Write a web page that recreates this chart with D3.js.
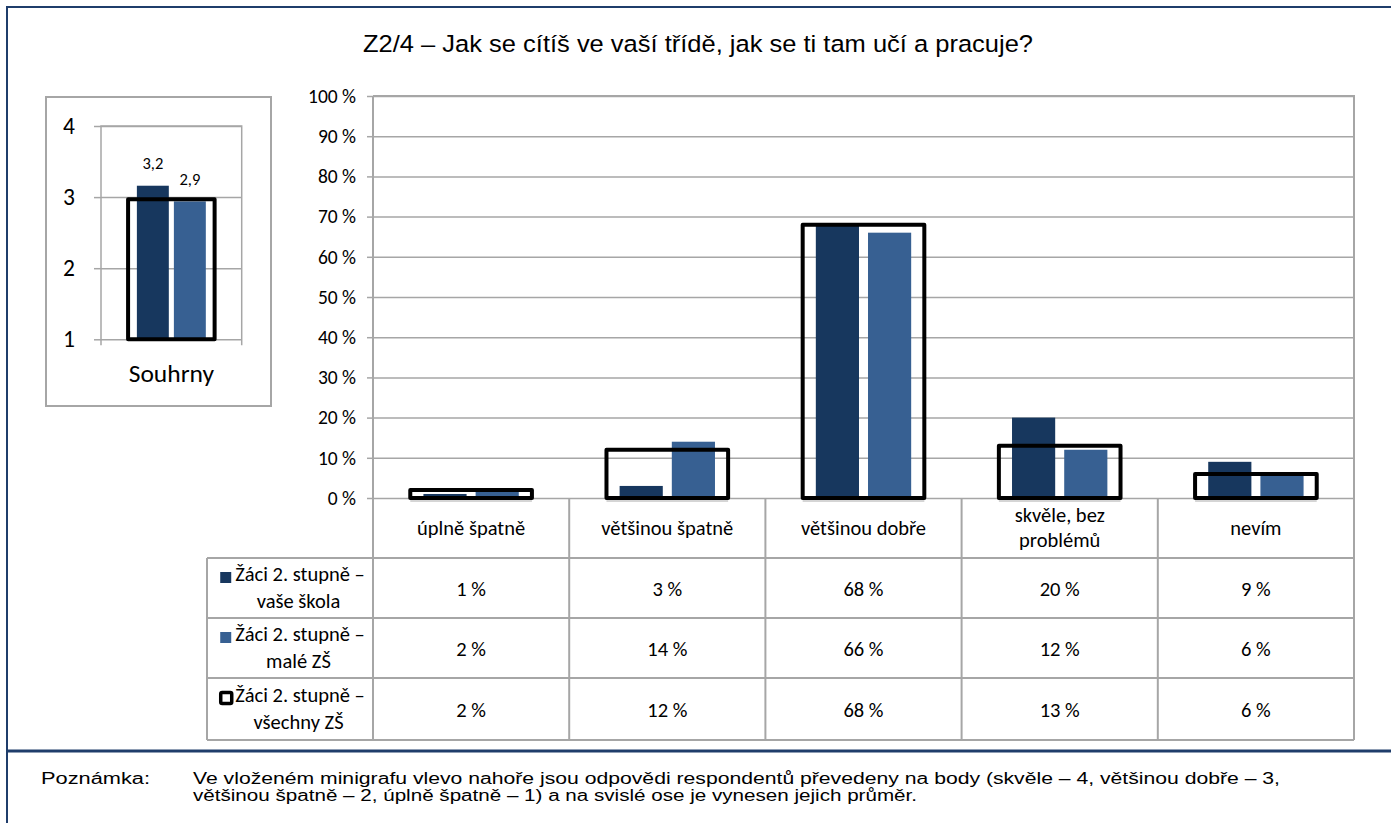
<!DOCTYPE html>
<html><head><meta charset="utf-8">
<script src="https://cdn.jsdelivr.net/npm/d3@7"></script>
<style>
html,body{margin:0;padding:0;background:#fff;}
svg{display:block;}
</style></head>
<body>
<svg id="c" width="1391" height="823"></svg>
<script>
const title = "Z2/4 – Jak se cítíš ve vaší třídě, jak se ti tam učí a pracuje?";
const categories = ["úplně špatně", "většinou špatně", "většinou dobře", "skvěle, bez\nproblémů", "nevím"];
const seriesNames = ["Žáci 2. stupně –\nvaše škola", "Žáci 2. stupně –\nmalé ZŠ", "Žáci 2. stupně –\nvšechny ZŠ"];
const schoolValues = [1, 3, 68, 20, 9];
const smallValues = [2, 14, 66, 12, 6];
const allValues = [2, 12, 68, 13, 6];
const yTicks = [0, 10, 20, 30, 40, 50, 60, 70, 80, 90, 100];
const miniCategory = ["Souhrny"];
const miniSchool = [3.16];
const miniSmall = [2.94];
const miniAll = [2.97];
const miniTicks = [1, 2, 3, 4];
const miniLabels = ["3,2", "2,9"];
const noteLabel = "Poznámka:";
const noteLines = ["Ve vloženém minigrafu vlevo nahoře jsou odpovědi respondentů převedeny na body (skvěle – 4, většinou dobře – 3,",
                   "většinou špatně – 2, úplně špatně – 1) a na svislé ose je vynesen jejich průměr."];

const C_DARK = "#17375e", C_LIGHT = "#376092", C_GRID = "#a6a6a6", C_FRAME = "#1f3d6b";
const FONT_C = "Carlito, Lato, 'Open Sans', sans-serif";
const FONT_A = "'Liberation Sans', Arial, sans-serif";
const TFS = 20.5;

const svg = d3.select("#c");

// Frame
svg.append("rect").attr("x", 7).attr("y", 7).attr("width", 1400).attr("height", 830)
  .attr("fill", "none").attr("stroke", C_FRAME).attr("stroke-width", 2);
svg.append("line").attr("x1", 7).attr("x2", 1391).attr("y1", 751).attr("y2", 751)
  .attr("stroke", C_FRAME).attr("stroke-width", 3);

// Title
svg.append("text").attr("x", 363).attr("y", 52)
  .attr("font-family", FONT_A).attr("font-size", 24.5).attr("fill", "#000")
  .attr("textLength", 670).attr("lengthAdjust", "spacingAndGlyphs").text(title);

// ---------- Main chart ----------
const L = 373, R = 1354, T = 96, B = 498;
const x = d3.scaleBand().domain(categories).range([L, R]).padding(0);
const y = d3.scaleLinear().domain([0, 100]).range([B, T]);
const bw = x.bandwidth();

const g = svg.append("g");
g.append("g").attr("transform", `translate(${L},0)`)
  .call(d3.axisLeft(y).tickValues(yTicks).tickSize(-(R - L)).tickFormat(""))
  .call(s => s.select(".domain").remove())
  .call(s => s.selectAll("line").attr("stroke", C_GRID).attr("stroke-width", 1.5));
g.append("g").attr("transform", `translate(${L},0)`)
  .call(d3.axisLeft(y).tickValues(yTicks).tickSize(6).tickPadding(11).tickFormat(d => d + " %"))
  .call(s => s.select(".domain").remove())
  .call(s => s.selectAll("line").attr("stroke", C_GRID).attr("stroke-width", 1.5))
  .call(s => s.selectAll("text").attr("font-family", FONT_C).attr("font-size", 19.5).attr("fill", "#000"));

g.append("path").attr("d", `M${L},${T}H${R}V${B}`).attr("fill", "none").attr("stroke", C_GRID).attr("stroke-width", 2);

// bars
const barW = bw * 0.22, barGap = bw * 0.046;
[schoolValues, smallValues].forEach((vals, si) => {
  g.append("g").selectAll("rect").data(vals).join("rect")
    .attr("x", (d, i) => x(categories[i]) + bw / 2 + (si === 0 ? -(barW + barGap / 2) : barGap / 2))
    .attr("width", barW)
    .attr("y", d => y(d)).attr("height", d => B - y(d))
    .attr("fill", si === 0 ? C_DARK : C_LIGHT);
});
// box series
const boxW = bw * 0.62;
g.append("g").selectAll("line").data(allValues).join("line")
  .attr("x1", (d, i) => x(categories[i]) + bw / 2 - boxW / 2)
  .attr("x2", (d, i) => x(categories[i]) + bw / 2 + boxW / 2)
  .attr("y1", B + 3).attr("y2", B + 3).attr("stroke", "#777").attr("stroke-width", 1.2).attr("opacity", 0.6);
g.append("g").selectAll("path").data(allValues).join("path")
  .attr("d", (d, i) => {
    const cx = x(categories[i]) + bw / 2;
    return `M${cx - boxW / 2},${B}V${y(d)}H${cx + boxW / 2}V${B}Z`;
  })
  .attr("fill", "none").attr("stroke", "#000").attr("stroke-width", 4).attr("stroke-linejoin", "round");

g.append("line").attr("x1", L).attr("x2", L).attr("y1", T).attr("y2", 740).attr("stroke", C_GRID).attr("stroke-width", 2);

// ---------- Data table ----------
const rows = [498, 558, 618, 678, 740];
const TL = 207;
const tg = svg.append("g");
[558, 618, 678, 740].forEach(yy => tg.append("line").attr("x1", TL).attr("x2", R).attr("y1", yy).attr("y2", yy).attr("stroke", C_GRID).attr("stroke-width", 2));
categories.forEach((c, i) => {
  tg.append("line").attr("x1", x(c) + bw).attr("x2", x(c) + bw).attr("y1", B).attr("y2", 740).attr("stroke", C_GRID).attr("stroke-width", 2);
});
tg.append("line").attr("x1", TL).attr("x2", TL).attr("y1", 558).attr("y2", 740).attr("stroke", C_GRID).attr("stroke-width", 2);

categories.forEach((c, i) => {
  const lines = c.split("\n");
  const cy = 528;
  lines.forEach((ln, li) => {
    tg.append("text").attr("x", x(c) + bw / 2).attr("y", cy + (li - (lines.length - 1) / 2) * 25 + 6.5)
      .attr("text-anchor", "middle").attr("font-family", FONT_C).attr("font-size", TFS).attr("fill", "#000").text(ln);
  });
});
const tableData = [schoolValues, smallValues, allValues];
tableData.forEach((vals, ri) => {
  const cy = (rows[ri + 1] + rows[ri + 2]) / 2;
  vals.forEach((v, i) => {
    tg.append("text").attr("x", x(categories[i]) + bw / 2).attr("y", cy + 8)
      .attr("text-anchor", "middle").attr("font-family", FONT_C).attr("font-size", TFS).attr("fill", "#000").text(v + " %");
  });
  const lines = seriesNames[ri].split("\n");
  const l1 = tg.append("text").attr("x", 300).attr("y", cy - 7).attr("text-anchor", "middle")
    .attr("font-family", FONT_C).attr("font-size", TFS).attr("fill", "#000").text(lines[0]);
  tg.append("text").attr("x", 298.5).attr("y", cy + 19.5).attr("text-anchor", "middle")
    .attr("font-family", FONT_C).attr("font-size", TFS).attr("fill", "#000").text(lines[1]);
  const bb = l1.node().getBBox();
  const mx0 = Math.max(bb.x - 15, 210), my0 = cy - 16;
  if (ri < 2) {
    tg.append("rect").attr("x", mx0).attr("y", my0).attr("width", 11).attr("height", 11).attr("fill", ri === 0 ? C_DARK : C_LIGHT);
  } else {
    tg.append("rect").attr("x", mx0 + 0.5).attr("y", my0 - 0.5).attr("width", 11).attr("height", 11).attr("rx", 1.5)
      .attr("fill", "#fff").attr("stroke", "#000").attr("stroke-width", 3.5);
  }
});

// ---------- Mini chart ----------
svg.append("rect").attr("x", 46).attr("y", 97).attr("width", 225).attr("height", 309)
  .attr("fill", "#fff").attr("stroke", C_GRID).attr("stroke-width", 2);
const mL = 101, mR = 241.7, mT = 126, mB = 339.3;
const mx = d3.scaleBand().domain(miniCategory).range([mL, mR]).padding(0);
const my = d3.scaleLinear().domain([1, 4]).range([mB, mT]);
const mbw = mx.bandwidth();
const mg = svg.append("g");
mg.append("g").attr("transform", `translate(${mL},0)`)
  .call(d3.axisLeft(my).tickValues(miniTicks).tickSize(-(mR - mL)).tickFormat(""))
  .call(s => s.select(".domain").remove())
  .call(s => s.selectAll("line").attr("stroke", C_GRID).attr("stroke-width", 1.5));
mg.append("g").attr("transform", `translate(${mL},0)`)
  .call(d3.axisLeft(my).tickValues(miniTicks).tickSize(7).tickPadding(19).tickFormat(d3.format("d")))
  .call(s => s.select(".domain").remove())
  .call(s => s.selectAll("line").attr("stroke", C_GRID).attr("stroke-width", 1.5))
  .call(s => s.selectAll("text").attr("font-family", FONT_C).attr("font-size", 23.5).attr("fill", "#000"));
mg.append("path").attr("d", `M${mL},${mB + 6}V${mT}H${mR}V${mB + 6}`).attr("fill", "none").attr("stroke", C_GRID).attr("stroke-width", 1.5);

const mBarW = mbw * 0.227, mGap = mbw * 0.036;
[miniSchool, miniSmall].forEach((vals, si) => {
  const bx = (i) => mx(miniCategory[i]) + mbw / 2 + (si === 0 ? -(mBarW + mGap / 2) : mGap / 2);
  mg.append("g").selectAll("rect").data(vals).join("rect")
    .attr("x", (d, i) => bx(i))
    .attr("width", mBarW)
    .attr("y", d => my(d)).attr("height", d => mB - my(d))
    .attr("fill", si === 0 ? C_DARK : C_LIGHT);
  mg.append("g").selectAll("text").data(vals).join("text")
    .attr("x", (d, i) => bx(i) + mBarW / 2)
    .attr("y", d => my(d) - 16.5)
    .attr("text-anchor", "middle").attr("font-family", FONT_C).attr("font-size", 16.5).attr("fill", "#000")
    .text(miniLabels[si]);
});
const mBoxW = mbw * 0.615;
mg.append("g").selectAll("path").data(miniAll).join("path")
  .attr("d", (d, i) => {
    const cx = mx(miniCategory[i]) + mbw / 2;
    return `M${cx - mBoxW / 2},${mB}V${my(d)}H${cx + mBoxW / 2}V${mB}Z`;
  })
  .attr("fill", "none").attr("stroke", "#000").attr("stroke-width", 4).attr("stroke-linejoin", "round");
mg.append("text").attr("x", mx(miniCategory[0]) + mbw / 2).attr("y", 382).attr("text-anchor", "middle")
  .attr("font-family", FONT_C).attr("font-size", 25.5).attr("fill", "#000").text(miniCategory[0]);

// ---------- Note ----------
svg.append("text").attr("x", 41).attr("y", 784).attr("font-family", FONT_A).attr("font-size", 16).attr("fill", "#000")
  .attr("textLength", 109).attr("lengthAdjust", "spacingAndGlyphs").text(noteLabel);
svg.append("text").attr("x", 193).attr("y", 784).attr("font-family", FONT_A).attr("font-size", 16).attr("fill", "#000")
  .attr("textLength", 1087).attr("lengthAdjust", "spacingAndGlyphs").text(noteLines[0]);
svg.append("text").attr("x", 193).attr("y", 801).attr("font-family", FONT_A).attr("font-size", 16).attr("fill", "#000")
  .attr("textLength", 724).attr("lengthAdjust", "spacingAndGlyphs").text(noteLines[1]);
</script>
</body></html>
